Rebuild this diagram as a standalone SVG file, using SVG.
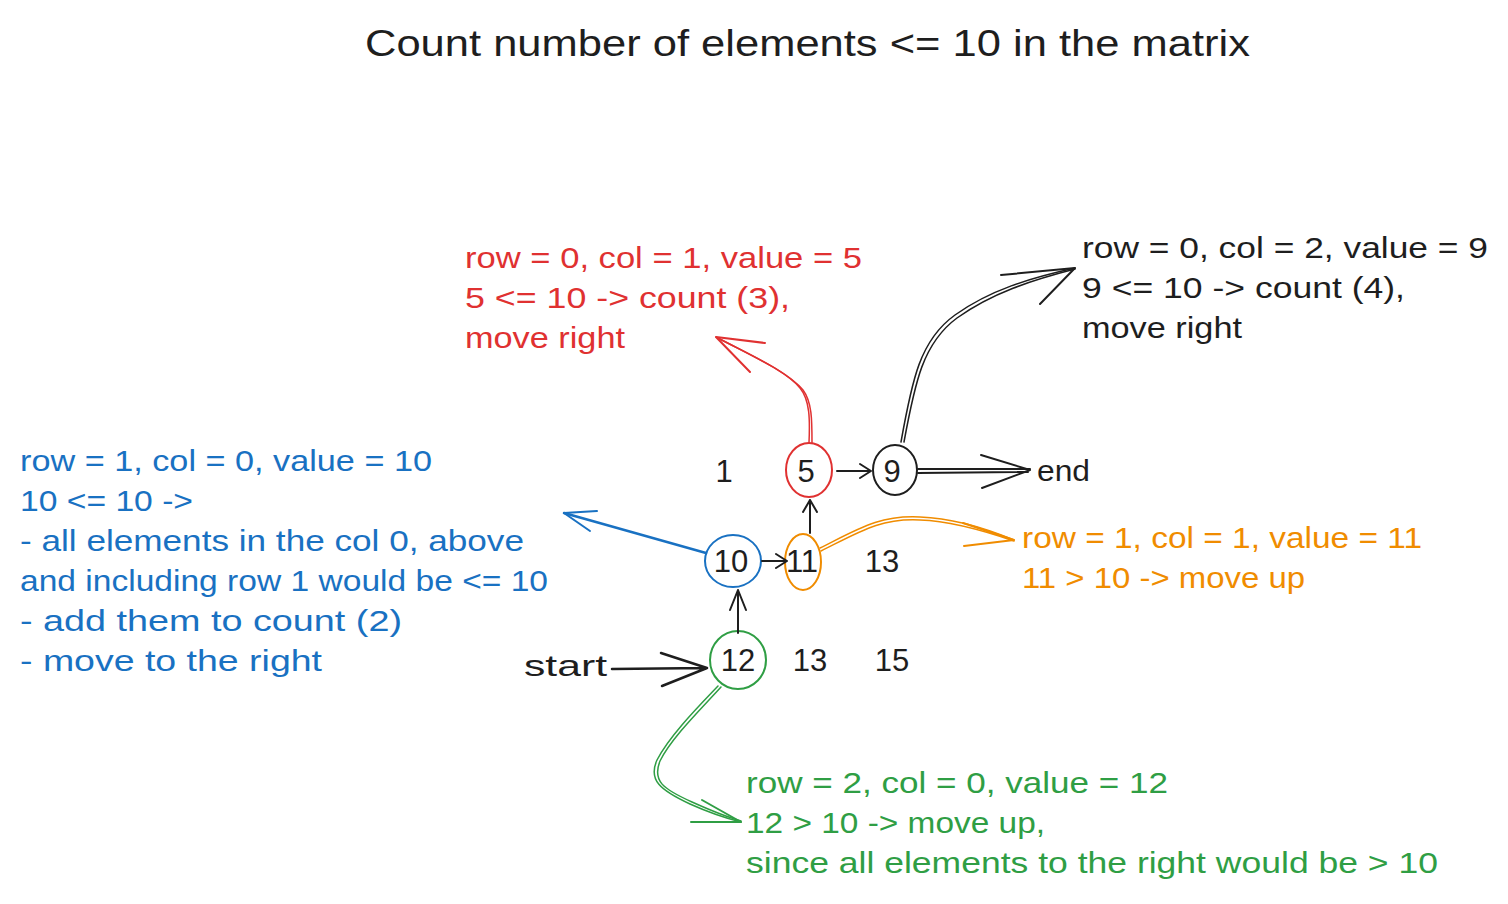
<svg xmlns="http://www.w3.org/2000/svg" width="1508" height="904" viewBox="0 0 1508 904">
<style>
text{font-family:"Liberation Sans","DejaVu Sans",sans-serif;font-size:30px;}
.k{fill:#1e1e1e}.r{fill:#e03131}.b{fill:#1971c2}.o{fill:#f08c00}.g{fill:#2f9e44}
.n{text-anchor:middle;font-size:31px}
.ln{fill:none;stroke-linecap:round;stroke-linejoin:round;stroke-width:2}
.sk{stroke:#1e1e1e}.sr{stroke:#e03131}.sb{stroke:#1971c2}.so{stroke:#f08c00}.sg{stroke:#2f9e44}
</style>
<rect width="1508" height="904" fill="#ffffff"/>
<g id="title"><text class="k" x="365" y="56" style="font-size:37px" textLength="885" lengthAdjust="spacingAndGlyphs">Count number of elements &lt;= 10 in the matrix</text></g>

<g id="matrix">
<text class="k n" x="724" y="482">1</text>
<text class="k n" x="882" y="572">13</text>
<text class="k n" x="810" y="671">13</text>
<text class="k n" x="892" y="671">15</text>
</g>

<g id="node-5"><ellipse class="ln sr" cx="809" cy="470" rx="23" ry="27"/><text class="k n" x="806" y="482">5</text></g>
<g id="node-9"><ellipse class="ln sk" cx="895" cy="470" rx="22" ry="25"/><text class="k n" x="892" y="482">9</text></g>
<g id="node-10"><ellipse class="ln sb" cx="733" cy="561" rx="28" ry="26"/><text class="k n" x="731" y="572">10</text></g>
<g id="node-11"><ellipse class="ln so" cx="803" cy="562" rx="18" ry="28"/><text class="k n" x="802" y="572">11</text></g>
<g id="node-12"><ellipse class="ln sg" cx="738" cy="660" rx="28" ry="29"/><text class="k n" x="738" y="671">12</text></g>
<g id="start"><text class="k" x="524" y="676" textLength="83" lengthAdjust="spacingAndGlyphs">start</text></g>
<g id="end"><text class="k" x="1037" y="481" textLength="53" lengthAdjust="spacingAndGlyphs">end</text></g>

<g id="label-red">
<text class="r" x="465" y="268" textLength="397" lengthAdjust="spacingAndGlyphs">row = 0, col = 1, value = 5</text>
<text class="r" x="465" y="308" textLength="325" lengthAdjust="spacingAndGlyphs">5 &lt;= 10 -&gt; count (3),</text>
<text class="r" x="465" y="348" textLength="160" lengthAdjust="spacingAndGlyphs">move right</text>
</g>
<g id="label-black">
<text class="k" x="1082" y="258" textLength="406" lengthAdjust="spacingAndGlyphs">row = 0, col = 2, value = 9</text>
<text class="k" x="1082" y="298" textLength="323" lengthAdjust="spacingAndGlyphs">9 &lt;= 10 -&gt; count (4),</text>
<text class="k" x="1082" y="338" textLength="160" lengthAdjust="spacingAndGlyphs">move right</text>
</g>
<g id="label-blue">
<text class="b" x="20" y="471" textLength="412" lengthAdjust="spacingAndGlyphs">row = 1, col = 0, value = 10</text>
<text class="b" x="20" y="511" textLength="173" lengthAdjust="spacingAndGlyphs">10 &lt;= 10 -&gt;</text>
<text class="b" x="20" y="551" textLength="504" lengthAdjust="spacingAndGlyphs">- all elements in the col 0, above</text>
<text class="b" x="20" y="591" textLength="528" lengthAdjust="spacingAndGlyphs">and including row 1 would be &lt;= 10</text>
<text class="b" x="20" y="631" textLength="382" lengthAdjust="spacingAndGlyphs">- add them to count (2)</text>
<text class="b" x="20" y="671" textLength="302" lengthAdjust="spacingAndGlyphs">- move to the right</text>
</g>
<g id="label-orange">
<text class="o" x="1022" y="548" textLength="400" lengthAdjust="spacingAndGlyphs">row = 1, col = 1, value = 11</text>
<text class="o" x="1022" y="588" textLength="283" lengthAdjust="spacingAndGlyphs">11 &gt; 10 -&gt; move up</text>
</g>
<g id="label-green">
<text class="g" x="746" y="793" textLength="422" lengthAdjust="spacingAndGlyphs">row = 2, col = 0, value = 12</text>
<text class="g" x="746" y="833" textLength="299" lengthAdjust="spacingAndGlyphs">12 &gt; 10 -&gt; move up,</text>
<text class="g" x="746" y="873" textLength="692" lengthAdjust="spacingAndGlyphs">since all elements to the right would be &gt; 10</text>
</g>

<g id="connectors">
<!-- start -> 12 -->
<path class="ln sk" style="stroke-width:2.5" d="M612 669 L707 668 M661 653 L707 668 L662 686"/>
<!-- 12 -> 10 -->
<path class="ln sk" d="M738 633 L738 590 M730 610 L738 590 L746 610"/>
<!-- 10 -> 11 -->
<path class="ln sk" d="M762 561 L787 561 M776 554 L787 561 L776 568"/>
<!-- 11 -> 5 -->
<path class="ln sk" d="M810 533 L810 500 M803 512 L810 500 L817 512"/>
<!-- 5 -> 9 -->
<path class="ln sk" d="M837 471 L871 471 M860 464 L871 471 L860 478"/>
<!-- 9 -> end -->
<path class="ln sk" d="M918 469 L1030 469 M918 473 L1028 472 M981 455 L1030 470 L982 488"/>
<!-- 9 -> black label -->
<path class="ln sk" style="stroke-width:1.5" d="M901 442 C912 380 920 340 955 315 C990 290 1030 278 1075 268"/>
<path class="ln sk" style="stroke-width:1.5" d="M904 442 C915 382 923 343 957 318 C992 293 1032 280 1075 269"/>
<path class="ln sk" d="M1001 275 L1075 268 L1040 304"/>
<!-- 5 -> red label -->
<path class="ln sr" style="stroke-width:1.5" d="M809 443 C810 420 810 400 800 388 C785 370 750 355 716 337"/>
<path class="ln sr" style="stroke-width:1.5" d="M812 443 C812 420 812 402 803 390 C788 372 752 356 718 338"/>
<path class="ln sr" d="M765 343 L716 337 L750 372"/>
<!-- 10 -> blue label -->
<path class="ln sb" style="stroke-width:2.5" d="M706 553 L564 513"/>
<path class="ln sb" d="M597 511 L564 513 L590 531"/>
<!-- 11 -> orange label -->
<path class="ln so" style="stroke-width:1.5" d="M820 548 C860 528 880 515 920 517 C950 518 985 528 1014 540"/>
<path class="ln so" style="stroke-width:1.5" d="M821 551 C861 531 881 518 920 520 C950 521 985 531 1014 541"/>
<path class="ln so" d="M963 523 L1014 540 L964 546"/>
<!-- 12 -> green label -->
<path class="ln sg" style="stroke-width:1.5" d="M718 686 C700 705 670 735 657 760 C648 780 660 790 690 804 C710 813 725 818 741 822"/>
<path class="ln sg" style="stroke-width:1.5" d="M721 687 C703 707 672 737 660 761 C652 781 663 789 692 802 C712 811 727 817 741 821"/>
<path class="ln sg" d="M702 800 L741 822 L691 822"/>
</g>
</svg>
